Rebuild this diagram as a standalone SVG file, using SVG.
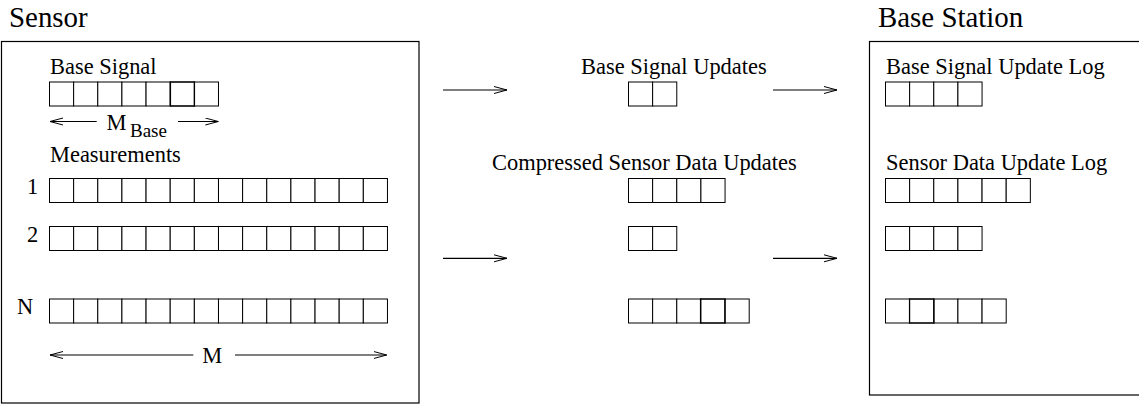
<svg xmlns="http://www.w3.org/2000/svg" width="1139" height="408" viewBox="0 0 1139 408" font-family="'Liberation Serif', 'Times New Roman', serif">
<style>
text{font-family:"Liberation Serif","Times New Roman",serif;fill:#000}
.t{font-size:28.9px}
.b{font-size:22.45px}
.s{font-size:19px}
.box{fill:none;stroke:#000;stroke-width:1.2}
.c{fill:#fff;stroke:#000;stroke-width:1}
.h{fill:none;stroke:#000;stroke-width:1.15}
.a{fill:none;stroke:#000;stroke-width:1.2;marker-end:url(#ah)}
</style>
<defs>
<marker id="ah" markerUnits="userSpaceOnUse" markerWidth="16" markerHeight="10" refX="13" refY="4" orient="auto"><path d="M0,0.5 L13,4 L0,7.5" fill="none" stroke="#000" stroke-width="1"/></marker>
</defs>

<g id="sensor">
<text class="t" x="9" y="26.5">Sensor</text>
<rect class="box" x="1.5" y="41.5" width="417.5" height="361.5"/>
<text class="b" x="50" y="74">Base Signal</text>
<g id="base-signal">
<rect class="c" x="49.5" y="82" width="24.14" height="24"/>
<rect class="c" x="73.64" y="82" width="24.14" height="24"/>
<rect class="c" x="97.78" y="82" width="24.14" height="24"/>
<rect class="c" x="121.92" y="82" width="24.14" height="24"/>
<rect class="c" x="146.06" y="82" width="24.14" height="24"/>
<rect class="c" x="170.2" y="82" width="24.14" height="24"/>
<rect class="c" x="194.34" y="82" width="24.14" height="24"/>
<rect class="h" x="170.5" y="82" width="24" height="24"/>
</g>
<path class="a" d="M96.7,121.5 H50"/>
<path class="a" d="M178,121.5 H218.3"/>
<text class="b" x="106.5" y="130">M</text>
<text class="s" x="130" y="137">Base</text>
<text class="b" x="50" y="162">Measurements</text>
<text class="b" x="27" y="193.5">1</text>
<text class="b" x="27" y="241.5">2</text>
<text class="b" x="17" y="314">N</text>
<g id="row1">
<rect class="c" x="49.5" y="178.5" width="24.14" height="24"/>
<rect class="c" x="73.64" y="178.5" width="24.14" height="24"/>
<rect class="c" x="97.78" y="178.5" width="24.14" height="24"/>
<rect class="c" x="121.92" y="178.5" width="24.14" height="24"/>
<rect class="c" x="146.06" y="178.5" width="24.14" height="24"/>
<rect class="c" x="170.2" y="178.5" width="24.14" height="24"/>
<rect class="c" x="194.34" y="178.5" width="24.14" height="24"/>
<rect class="c" x="218.48" y="178.5" width="24.14" height="24"/>
<rect class="c" x="242.62" y="178.5" width="24.14" height="24"/>
<rect class="c" x="266.76" y="178.5" width="24.14" height="24"/>
<rect class="c" x="290.9" y="178.5" width="24.14" height="24"/>
<rect class="c" x="315.04" y="178.5" width="24.14" height="24"/>
<rect class="c" x="339.18" y="178.5" width="24.14" height="24"/>
<rect class="c" x="363.32" y="178.5" width="24.14" height="24"/>
</g>
<g id="row2">
<rect class="c" x="49.5" y="226.5" width="24.14" height="24"/>
<rect class="c" x="73.64" y="226.5" width="24.14" height="24"/>
<rect class="c" x="97.78" y="226.5" width="24.14" height="24"/>
<rect class="c" x="121.92" y="226.5" width="24.14" height="24"/>
<rect class="c" x="146.06" y="226.5" width="24.14" height="24"/>
<rect class="c" x="170.2" y="226.5" width="24.14" height="24"/>
<rect class="c" x="194.34" y="226.5" width="24.14" height="24"/>
<rect class="c" x="218.48" y="226.5" width="24.14" height="24"/>
<rect class="c" x="242.62" y="226.5" width="24.14" height="24"/>
<rect class="c" x="266.76" y="226.5" width="24.14" height="24"/>
<rect class="c" x="290.9" y="226.5" width="24.14" height="24"/>
<rect class="c" x="315.04" y="226.5" width="24.14" height="24"/>
<rect class="c" x="339.18" y="226.5" width="24.14" height="24"/>
<rect class="c" x="363.32" y="226.5" width="24.14" height="24"/>
</g>
<g id="rowN">
<rect class="c" x="49.5" y="299" width="24.14" height="24"/>
<rect class="c" x="73.64" y="299" width="24.14" height="24"/>
<rect class="c" x="97.78" y="299" width="24.14" height="24"/>
<rect class="c" x="121.92" y="299" width="24.14" height="24"/>
<rect class="c" x="146.06" y="299" width="24.14" height="24"/>
<rect class="c" x="170.2" y="299" width="24.14" height="24"/>
<rect class="c" x="194.34" y="299" width="24.14" height="24"/>
<rect class="c" x="218.48" y="299" width="24.14" height="24"/>
<rect class="c" x="242.62" y="299" width="24.14" height="24"/>
<rect class="c" x="266.76" y="299" width="24.14" height="24"/>
<rect class="c" x="290.9" y="299" width="24.14" height="24"/>
<rect class="c" x="315.04" y="299" width="24.14" height="24"/>
<rect class="c" x="339.18" y="299" width="24.14" height="24"/>
<rect class="c" x="363.32" y="299" width="24.14" height="24"/>
</g>
<path class="a" d="M193.3,355 H50"/>
<path class="a" d="M235,355 H386.7"/>
<text class="b" x="202.3" y="363">M</text>
</g>

<g id="updates">
<text class="b" x="581" y="74">Base Signal Updates</text>
<rect class="c" x="628.5" y="82" width="24.14" height="24"/>
<rect class="c" x="652.64" y="82" width="24.14" height="24"/>
<text class="b" x="492" y="170">Compressed Sensor Data Updates</text>
<rect class="c" x="628.5" y="178.5" width="24.14" height="24"/>
<rect class="c" x="652.64" y="178.5" width="24.14" height="24"/>
<rect class="c" x="676.78" y="178.5" width="24.14" height="24"/>
<rect class="c" x="700.92" y="178.5" width="24.14" height="24"/>
<rect class="c" x="628.5" y="226.5" width="24.14" height="24"/>
<rect class="c" x="652.64" y="226.5" width="24.14" height="24"/>
<rect class="c" x="628.5" y="299" width="24.14" height="24"/>
<rect class="c" x="652.64" y="299" width="24.14" height="24"/>
<rect class="c" x="676.78" y="299" width="24.14" height="24"/>
<rect class="c" x="700.92" y="299" width="24.14" height="24"/>
<rect class="c" x="725.06" y="299" width="24.14" height="24"/>
<rect class="h" x="700.5" y="299" width="24.5" height="24"/>
</g>

<g id="base-station">
<text class="t" x="878" y="26.5">Base Station</text>
<rect class="box" x="869.5" y="41.5" width="275" height="353.5"/>
<text class="b" x="886" y="74">Base Signal Update Log</text>
<rect class="c" x="885.5" y="82" width="24.14" height="24"/>
<rect class="c" x="909.64" y="82" width="24.14" height="24"/>
<rect class="c" x="933.78" y="82" width="24.14" height="24"/>
<rect class="c" x="957.92" y="82" width="24.14" height="24"/>
<text class="b" x="886" y="170">Sensor Data Update Log</text>
<rect class="c" x="885.5" y="178.5" width="24.14" height="24"/>
<rect class="c" x="909.64" y="178.5" width="24.14" height="24"/>
<rect class="c" x="933.78" y="178.5" width="24.14" height="24"/>
<rect class="c" x="957.92" y="178.5" width="24.14" height="24"/>
<rect class="c" x="982.06" y="178.5" width="24.14" height="24"/>
<rect class="c" x="1006.2" y="178.5" width="24.14" height="24"/>
<rect class="c" x="885.5" y="226.5" width="24.14" height="24"/>
<rect class="c" x="909.64" y="226.5" width="24.14" height="24"/>
<rect class="c" x="933.78" y="226.5" width="24.14" height="24"/>
<rect class="c" x="957.92" y="226.5" width="24.14" height="24"/>
<rect class="c" x="885.5" y="299" width="24.14" height="24"/>
<rect class="c" x="909.64" y="299" width="24.14" height="24"/>
<rect class="c" x="933.78" y="299" width="24.14" height="24"/>
<rect class="c" x="957.92" y="299" width="24.14" height="24"/>
<rect class="c" x="982.06" y="299" width="24.14" height="24"/>
<rect class="h" x="909.5" y="299" width="24.5" height="24"/>
</g>

<g id="connectors">
<path class="a" d="M443,90 H507"/>
<path class="a" d="M443,258.3 H507"/>
<path class="a" d="M773,90 H837"/>
<path class="a" d="M773,258.3 H837"/>
</g>
</svg>
